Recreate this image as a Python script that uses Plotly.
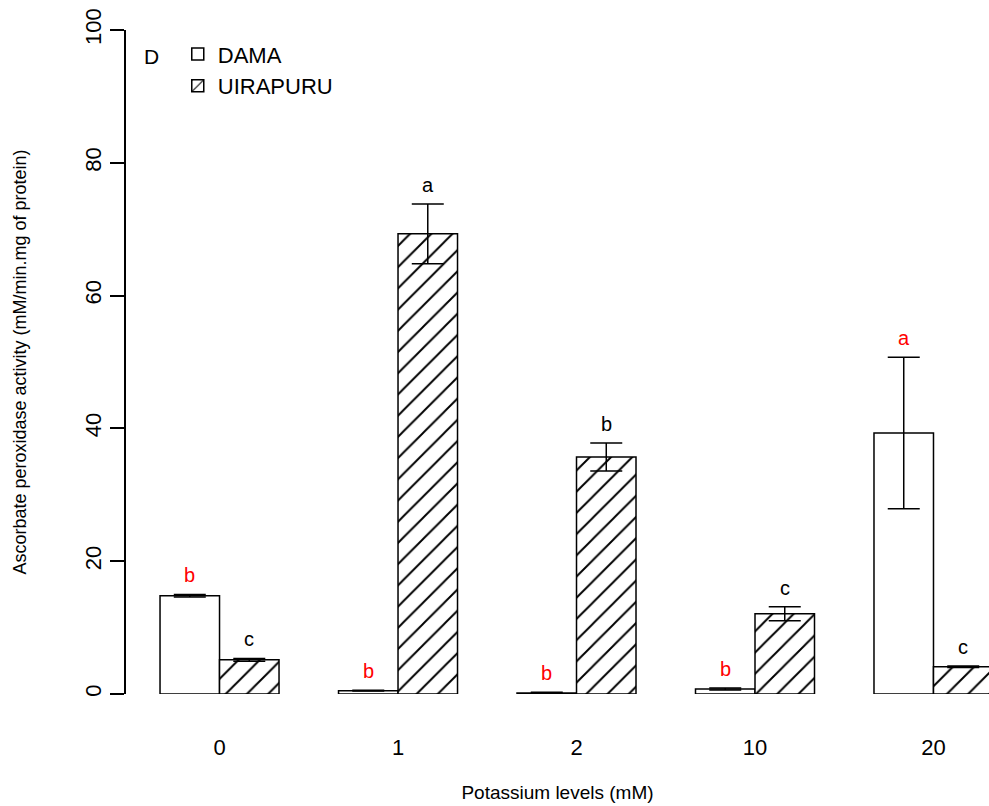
import plotly.graph_objects as go

# Potassium treatment levels (mM)
levels = ["0", "1", "2", "10", "20"]

# Ascorbate peroxidase activity, mean and standard error per cultivar
dama_mean = [14.8, 0.5, 0.15, 0.75, 39.3]
dama_se = [0.2, 0.05, 0.1, 0.15, 11.4]
uirapuru_mean = [5.15, 69.3, 35.7, 12.1, 4.1]
uirapuru_se = [0.2, 4.5, 2.1, 1.05, 0.1]

# Significance letters
dama_letters = ["b", "b", "b", "b", "a"]
uirapuru_letters = ["c", "a", "b", "c", "c"]

FONT = "Liberation Sans, Arial, sans-serif"

fig = go.Figure()

fig.add_trace(go.Bar(
    name="DAMA",
    x=levels,
    y=dama_mean,
    marker=dict(color="white", line=dict(color="black", width=1.5)),
    error_y=dict(type="data", array=dama_se, visible=True,
                 color="black", thickness=1.5, width=16),
))

fig.add_trace(go.Bar(
    name="UIRAPURU",
    x=levels,
    y=uirapuru_mean,
    marker=dict(
        color="white",
        line=dict(color="black", width=1.5),
        pattern=dict(shape="/", fgcolor="black", fgopacity=1,
                     bgcolor="white", size=15, solidity=0.13),
    ),
    error_y=dict(type="data", array=uirapuru_se, visible=True,
                 color="black", thickness=1.5, width=16),
))

# Letters above each bar's error bar
annotations = []
for i, lev in enumerate(levels):
    annotations.append(dict(
        x=i - 1 / 6, y=dama_mean[i] + dama_se[i], xref="x", yref="y",
        text=dama_letters[i], showarrow=False, yanchor="middle", yshift=19,
        font=dict(family=FONT, size=20, color="#ff0000"),
    ))
    annotations.append(dict(
        x=i + 1 / 6, y=uirapuru_mean[i] + uirapuru_se[i], xref="x", yref="y",
        text=uirapuru_letters[i], showarrow=False, yanchor="middle", yshift=19,
        font=dict(family=FONT, size=20, color="black"),
    ))

# Panel tag
annotations.append(dict(
    x=(151 - 126) / 863, y=(694 - 56) / 664, xref="paper", yref="paper",
    xanchor="center", yanchor="middle", text="D", showarrow=False,
    font=dict(family=FONT, size=21, color="black"),
))

fig.update_layout(
    width=989, height=806,
    margin=dict(l=126, r=0, t=30, b=112),
    paper_bgcolor="white", plot_bgcolor="white",
    barmode="group", bargap=1 / 3, bargroupgap=0,
    font=dict(family=FONT, color="black"),
    showlegend=True,
    legend=dict(
        x=0.06, y=0.995, xanchor="left", yanchor="top",
        bgcolor="rgba(0,0,0,0)", font=dict(family=FONT, size=22),
        tracegroupgap=0, itemwidth=30,
    ),
    annotations=annotations,
)

fig.update_xaxes(
    type="category",
    range=[-0.524, 4.311],
    showline=False, showgrid=False, zeroline=False,
    ticks="", ticklabelstandoff=38,
    tickfont=dict(family=FONT, size=22),
    title=dict(text="Potassium levels (mM)", standoff=26,
               font=dict(family=FONT, size=19)),
)

fig.update_yaxes(
    range=[0, 100],
    tickvals=[0, 20, 40, 60, 80, 100],
    showline=True, linecolor="black", linewidth=1.5,
    ticks="outside", ticklen=14, tickwidth=1.5, tickcolor="black",
    tickangle=-90, tickfont=dict(family=FONT, size=22),
    showgrid=False, zeroline=False,
    title=dict(text="Ascorbate peroxidase activity (mM/min.mg of protein)",
               standoff=50, font=dict(family=FONT, size=18)),
)

fig.write_html("out.html")
